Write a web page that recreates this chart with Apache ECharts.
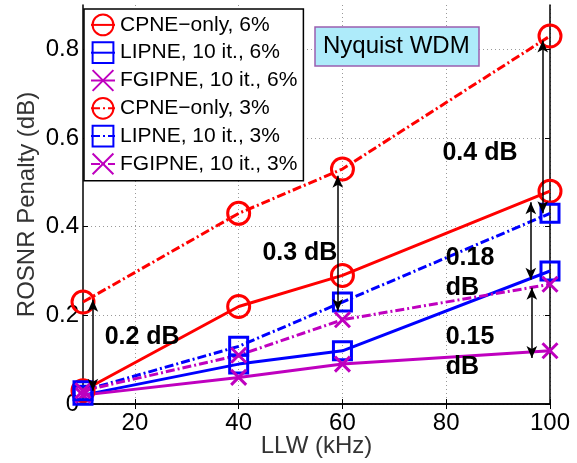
<!DOCTYPE html>
<html>
<head>
<meta charset="utf-8">
<script src="https://cdn.jsdelivr.net/npm/echarts@6/dist/echarts.min.js"></script>
<style>html,body{margin:0;padding:0;background:#fff}#c{width:577px;height:463px}</style>
</head>
<body>
<div id="c"></div>
<script>
// ---- data ----
const llw = [10, 40, 60, 100];
const cpne6 = [0.03, 0.22, 0.29, 0.48];
const lipne6 = [0.02, 0.09, 0.12, 0.30];
const fgipne6 = [0.02, 0.06, 0.09, 0.12];
const cpne3 = [0.23, 0.43, 0.53, 0.83];
const lipne3 = [0.03, 0.13, 0.23, 0.43];
const fgipne3 = [0.03, 0.11, 0.19, 0.27];
const seriesNames = ['CPNE\u2212only, 6%', 'LIPNE, 10 it., 6%', 'FGIPNE, 10 it., 6%',
                     'CPNE\u2212only, 3%', 'LIPNE, 10 it., 3%', 'FGIPNE, 10 it., 3%'];
const xTicks = [20, 40, 60, 80, 100];
const yTicks = [0, 0.2, 0.4, 0.6, 0.8];
// annotation arrows (data units)
const arrowX = [11.9, 59.1, 98.6, 96.3, 96.5];
const arrowFrom = [0.235, 0.515, 0.82, 0.455, 0.262];
const arrowTo = [0.03, 0.21, 0.43, 0.28, 0.104];
// annotation texts (data units)
const annText = ['0.2 dB', '0.3 dB', '0.4 dB', '0.18\ndB', '0.15\ndB'];
const annX = [21.4, 51.8, 86.5, 79.9, 79.9];
const annY = [0.151, 0.341, 0.567, 0.296, 0.117];
const boxText = 'Nyquist WDM';

// ---- styles ----
const RED = '#ff0000', BLUE = '#0000ff', MAG = '#bf00bf';
const FONT = 'Liberation Sans, Arial, Helvetica, sans-serif';
const dashDot = [9, 3, 2, 3];
const xSym = 'path://M0,0L10,10M10,0L0,10';

function mkSeries(name, vals, color, symbol, size, dashed) {
  return {
    name: name, type: 'line', z: 3,
    data: llw.map((x, i) => [x, vals[i]]),
    symbol: symbol, symbolSize: size, showAllSymbol: true,
    lineStyle: {color: color, width: 3, type: dashed ? dashDot : 'solid'},
    itemStyle: {color: 'none', borderColor: color, borderWidth: 3},
    emphasis: {disabled: true},
    animation: false
  };
}

const series = [
  mkSeries(seriesNames[0], cpne6, RED, 'circle', 22, false),
  mkSeries(seriesNames[1], lipne6, BLUE, 'rect', 18, false),
  mkSeries(seriesNames[2], fgipne6, MAG, xSym, 15, false),
  mkSeries(seriesNames[3], cpne3, RED, 'circle', 22, true),
  mkSeries(seriesNames[4], lipne3, BLUE, 'rect', 18, true),
  mkSeries(seriesNames[5], fgipne3, MAG, xSym, 15, true)
];

series.push({
  name: 'annotations', type: 'line', z: 5, data: [], silent: true, animation: false,
  markPoint: {
    silent: true, animation: false, symbol: 'circle', symbolSize: 0,
    itemStyle: {color: 'transparent'},
    data: annText.map((t, i) => ({
      coord: [annX[i], annY[i]],
      label: {
        show: true, position: 'inside', formatter: t,
        align: i >= 3 ? 'left' : 'center', verticalAlign: 'middle',
        fontSize: 25, fontWeight: 'bold', color: '#000', opacity: 1,
        fontFamily: FONT, lineHeight: 30, textBorderWidth: 0
      }
    }))
  },
  markLine: {
    silent: true, animation: false,
    symbol: ['arrow', 'arrow'], symbolSize: [8, 12],
    lineStyle: {color: '#000', width: 1.5, type: 'solid'},
    label: {show: false},
    data: arrowX.map((x, i) => [{coord: [x, arrowFrom[i]]}, {coord: [x, arrowTo[i]]}])
  }
});

const chart = echarts.init(document.getElementById('c'), null, {renderer: 'canvas'});
chart.setOption({
  animation: false,
  backgroundColor: '#fff',
  textStyle: {fontFamily: FONT},
  grid: {left: 83, right: 27, top: 5, bottom: 59, containLabel: false, outerBoundsMode: 'none'},
  title: {
    text: boxText, left: 315, top: 27,
    backgroundColor: '#aeebfa', borderColor: '#9a5fb0', borderWidth: 1.5,
    padding: [6, 10, 6, 8],
    textStyle: {fontSize: 24, fontWeight: 'normal', color: '#000', fontFamily: FONT, lineHeight: 27}
  },
  legend: {
    data: seriesNames, orient: 'vertical', left: 84, top: 9,
    backgroundColor: '#fff', borderColor: '#000', borderWidth: 1.5,
    padding: [3, 6, 4, 6], itemWidth: 24, itemHeight: 26, itemGap: 2,
    textStyle: {fontSize: 21, color: '#000', fontFamily: FONT},
    selectedMode: false, z: 10
  },
  xAxis: [{
    type: 'value', min: 10, max: 100, name: 'LLW (kHz)', nameLocation: 'middle', nameGap: 30,
    nameMoveOverlap: false,
    nameTextStyle: {fontSize: 24, color: '#333', fontFamily: FONT},
    axisLine: {lineStyle: {color: '#000', width: 1.5}},
    axisTick: {inside: true, length: 5, customValues: xTicks, lineStyle: {color: '#000'}},
    axisLabel: {customValues: xTicks, fontSize: 24, color: '#000', margin: 7, fontFamily: FONT},
    splitLine: {show: true, lineStyle: {color: '#999', type: [1, 3], width: 1}}
  }, {
    type: 'value', min: 10, max: 100, position: 'top',
    axisLine: {show: true, lineStyle: {color: '#000', width: 1.5}},
    axisTick: {inside: true, length: 5, customValues: xTicks, lineStyle: {color: '#000'}},
    axisLabel: {show: false}, splitLine: {show: false}
  }],
  yAxis: [{
    type: 'value', min: 0, max: 0.9, name: 'ROSNR Penalty (dB)', nameLocation: 'middle', nameGap: 44,
    nameMoveOverlap: false,
    nameTextStyle: {fontSize: 24, color: '#333', fontFamily: FONT},
    axisLine: {show: true, lineStyle: {color: '#000', width: 1.5}},
    axisTick: {show: true, inside: true, length: 5, customValues: yTicks, lineStyle: {color: '#000'}},
    axisLabel: {customValues: yTicks, fontSize: 24, color: '#000', margin: 4, fontFamily: FONT,
                formatter: v => String(v)},
    splitLine: {show: true, lineStyle: {color: '#999', type: [1, 3], width: 1}}
  }, {
    type: 'value', min: 0, max: 0.9, position: 'right',
    axisLine: {show: true, lineStyle: {color: '#000', width: 1.5}},
    axisTick: {show: true, inside: true, length: 5, customValues: yTicks, lineStyle: {color: '#000'}},
    axisLabel: {show: false}, splitLine: {show: false}
  }],
  series: series
});
</script>
</body>
</html>
